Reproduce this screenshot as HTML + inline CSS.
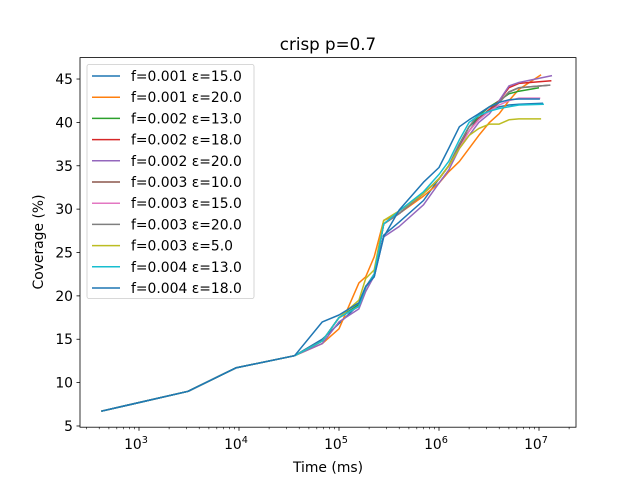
<!DOCTYPE html>
<html><head><meta charset="utf-8"><style>body{margin:0;background:#fff}svg{font-family:"DejaVu Sans","Liberation Sans",sans-serif}</style></head>
<body>
<svg id="chart" width="640" height="480" xmlns="http://www.w3.org/2000/svg"></svg>
<script>
const times=[420,3100,9300,36000,68000,100000,158000,185000,225000,280000,400000,700000,1000000,1250000,1600000,2000000,2500000,3200000,4000000,5000000,6300000];
const labels=["f=0.001 ε=15.0","f=0.001 ε=20.0","f=0.002 ε=13.0","f=0.002 ε=18.0","f=0.002 ε=20.0","f=0.003 ε=10.0","f=0.003 ε=15.0","f=0.003 ε=20.0","f=0.003 ε=5.0","f=0.004 ε=13.0","f=0.004 ε=18.0"];
const endTimes=[11000000,10500000,10000000,13300000,13500000,12800000,10300000,13000000,10500000,11200000,10200000];
const prefix=[6.7,9.0,11.7,13.1];
const s0=[15,16.8,19,21,22.2,27.0,28.5,31,33.5,35.0,37.5,39.5,40.5,41.5,41.8,42.0,42.1,42.2];
const s1=[14.5,16.2,21.5,22.2,24.5,28.7,29.5,31.5,33.0,34.3,35.5,37.0,38.5,40.0,41.0,42.5,43.8,45.5];
const s2=[14.8,17.5,19,21,22.5,28.3,29.5,31.8,33.5,35.0,37.5,39.5,40.8,41.8,42.5,43.3,43.6,44.0];
const s3=[14.8,17.5,18.8,21,22.5,28.3,29.5,31.8,33.5,35.0,37.5,39.0,40.5,41.5,42.5,44.0,44.5,44.8];
const s4=[14.5,17.0,18.5,20.5,22.3,26.8,28.0,30.5,33.0,34.5,37.0,38.5,40.0,41.0,42.5,44.2,44.6,45.4];
const s5=[14.8,17.5,18.8,21,22.5,28.3,29.5,31.8,33.5,35.0,37.3,39.0,40.5,41.3,42.3,43.5,44.0,44.3];
const s6=[14.8,17.5,18.8,21,22.5,28.3,29.5,31.8,33.5,35.0,37.0,39.0,40.3,41.3,42.0,42.5,42.8,42.8];
const s7=[14.8,17.5,18.8,21,22.5,28.3,29.5,31.8,33.5,35.0,37.5,39.5,41.0,41.8,42.3,43.5,44.0,44.3];
const s8=[14.8,17.5,19.5,22,23.0,28.7,29.8,31.8,33.5,35.0,37.0,38.5,39.3,39.8,39.8,40.3,40.4,40.4];
const s9=[14.8,17.5,18.8,21,22.5,28.3,29.8,32,34,35.5,38,40.0,40.8,41.3,41.6,41.8,42.0,42.1];
const s10=[17.0,17.8,19.2,21.1,22.2,26.8,29.9,33.1,34.8,37.0,39.5,40.3,41.0,41.8,42.3,42.6,42.7,42.7];
const series=[s0,s1,s2,s3,s4,s5,s6,s7,s8,s9,s10];
const colors=["#1f77b4","#ff7f0e","#2ca02c","#d62728","#9467bd","#8c564b","#e377c2","#7f7f7f","#bcbd22","#17becf","#1f77b4"];
const yTicks=[5,10,15,20,25,30,35,40,45];
const xTickExp=[3,4,5,6,7];

const L=80,R=576,T=57.6,B=427.2;
const xmin=2.41,xmax=7.37,ymin=4.86,ymax=47.47;
const X=v=>L+(Math.log10(v)-xmin)/(xmax-xmin)*(R-L);
const Y=v=>B-(v-ymin)/(ymax-ymin)*(B-T);
const svg=document.getElementById('chart');
const NS='http://www.w3.org/2000/svg';
function mk(tag,attrs,parent){const e=document.createElementNS(NS,tag);for(const k in attrs)e.setAttribute(k,attrs[k]);(parent||svg).appendChild(e);return e;}

series.forEach((s,i)=>{
  const ys=prefix.concat(s);
  const ts=times.concat([endTimes[i]]);
  const pts=ts.map((t,j)=>X(t).toFixed(1)+','+Y(ys[j]).toFixed(1)).join(' ');
  const p=mk('polyline',{points:pts,fill:'none',stroke:colors[i],'stroke-width':1.5,'stroke-linejoin':'round'});
  
  
});
const fr=mk('rect',{x:L,y:T,width:R-L,height:B-T,fill:'none',stroke:'#000','stroke-width':0.8});


yTicks.forEach(v=>{
  const y=Y(v);
  mk('line',{x1:L-3.5,x2:L,y1:y,y2:y,stroke:'#000','stroke-width':0.8});
  const t=mk('text',{x:L-7,y:y+5,'font-size':13.9,'text-anchor':'end'});
  t.textContent=v;
  
  
});
xTickExp.forEach(e=>{
  const x=X(Math.pow(10,e));
  mk('line',{x1:x,x2:x,y1:B,y2:B+3.5,stroke:'#000','stroke-width':0.8});
  const t=mk('text',{x:x-3,y:B+22,'font-size':13.9,'text-anchor':'middle'});
  t.textContent='10';
  const sup=mk('tspan',{dy:-6,'font-size':9.7},t);sup.textContent=e;
  
  
});
for(let e=2;e<=7;e++){for(let m=2;m<=9;m++){const v=m*Math.pow(10,e);const lv=Math.log10(v);if(lv<xmin||lv>xmax)continue;const x=X(v);mk('line',{x1:x,x2:x,y1:B,y2:B+2,stroke:'#000','stroke-width':0.6});}}
let t=mk('text',{x:328,y:50,'font-size':16.7,'text-anchor':'middle'});t.textContent='crisp p=0.7';


t=mk('text',{x:328,y:472,'font-size':13.9,'text-anchor':'middle'});t.textContent='Time (ms)';


t=mk('text',{x:0,y:0,'font-size':13.9,'text-anchor':'middle',transform:'translate(43,242) rotate(-90)'});t.textContent='Coverage (%)';


const lg=mk('g',{});


mk('rect',{x:87,y:64.5,width:167,height:234,rx:2,fill:'#fff','fill-opacity':0.8,stroke:'#ccc','stroke-width':0.8},lg);
labels.forEach((lab,i)=>{
  const y=76+i*21.2;
  mk('line',{x1:92,x2:120,y1:y,y2:y,stroke:colors[i],'stroke-width':1.5},lg);
  const tx=mk('text',{x:131,y:y+5,'font-size':13.9},lg);tx.textContent=lab;
  
  
});
</script>
</body></html>
